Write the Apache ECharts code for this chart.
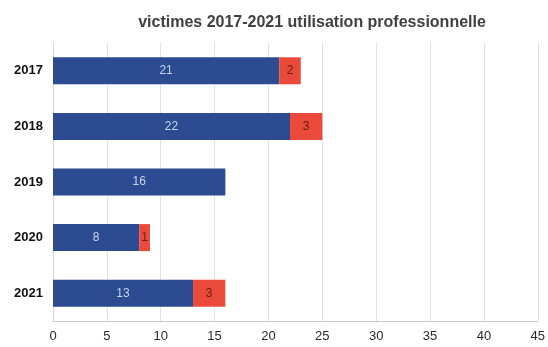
<!DOCTYPE html>
<html>
<head>
<meta charset="utf-8">
<script src="https://cdn.jsdelivr.net/npm/echarts@6/dist/echarts.min.js"></script>
<style>
  html, body { margin: 0; padding: 0; background: #fff; }
  #chart { width: 548px; height: 347px; }
</style>
</head>
<body>
<div id="chart"></div>
<script>
// Victims per year, professional use, split into two groups
const years = ['2017', '2018', '2019', '2020', '2021'];
const mainValues = [21, 22, 16, 8, 13];
const extraValues = [2, 3, 0, 1, 3];
const xTicks = [0, 5, 10, 15, 20, 25, 30, 35, 40, 45];

const chart = echarts.init(document.getElementById('chart'));

const hideZero = p => (p.value ? String(p.value) : '');

chart.setOption({
  animation: false,
  backgroundColor: '#ffffff',
  title: {
    text: 'victimes 2017-2021 utilisation professionnelle',
    left: 307,
    textAlign: 'center',
    top: 10,
    textStyle: {
      fontFamily: 'Liberation Sans, Arial, sans-serif',
      fontSize: 16,
      fontWeight: 'bold',
      color: '#404040'
    }
  },
  grid: { left: 53, right: 7, top: 43, bottom: 26, containLabel: false },
  xAxis: {
    type: 'value',
    min: xTicks[0],
    max: xTicks[xTicks.length - 1],
    interval: 5,
    axisLine: { show: true, lineStyle: { color: '#c8c8c8' } },
    axisTick: { show: false },
    splitLine: { show: true, lineStyle: { color: '#e2e2e2', width: 1 } },
    axisLabel: {
      color: '#2a2a2a',
      fontFamily: 'Liberation Sans, Arial, sans-serif',
      fontSize: 13,
      margin: 9
    }
  },
  yAxis: {
    type: 'category',
    data: years,
    inverse: true,
    axisLine: { show: true, lineStyle: { color: '#d8d8d8' } },
    axisTick: { show: false },
    axisLabel: {
      color: '#111111',
      fontFamily: 'Liberation Sans, Arial, sans-serif',
      fontSize: 13,
      fontWeight: 'bold',
      margin: 10
    }
  },
  series: [
    {
      type: 'bar',
      stack: 'total',
      data: mainValues,
      barWidth: 27,
      itemStyle: { color: '#2d4b91' },
      label: {
        show: true,
        position: 'inside',
        formatter: hideZero,
        color: '#c4d6f0',
        fontFamily: 'Liberation Sans, Arial, sans-serif',
        fontSize: 12
      }
    },
    {
      type: 'bar',
      stack: 'total',
      data: extraValues,
      barWidth: 27,
      itemStyle: { color: '#ea4a3a' },
      label: {
        show: true,
        position: 'inside',
        formatter: hideZero,
        color: '#6a1c12',
        fontFamily: 'Liberation Sans, Arial, sans-serif',
        fontSize: 12
      }
    }
  ]
});
</script>
</body>
</html>
